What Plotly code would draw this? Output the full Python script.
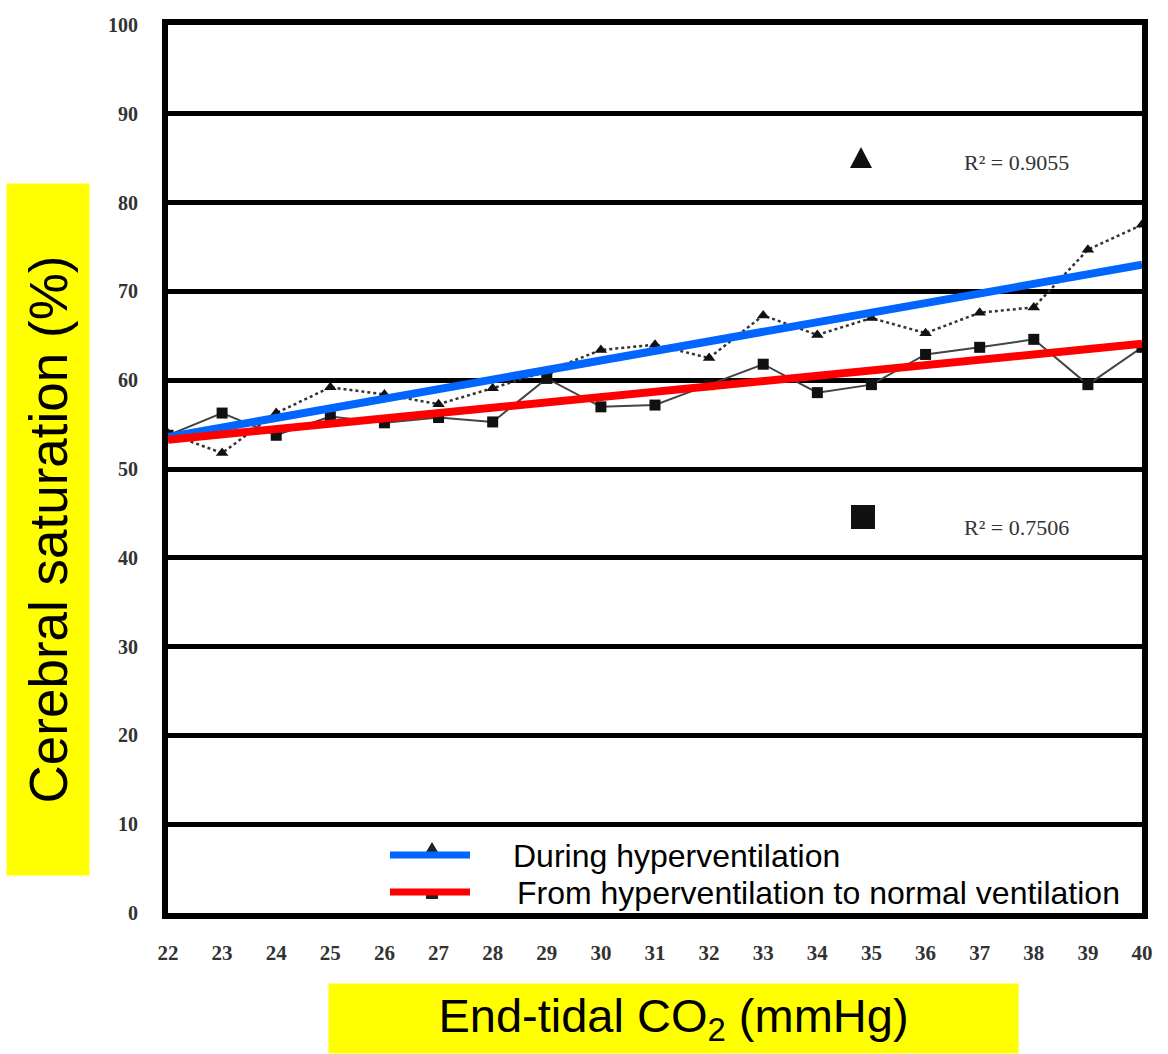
import plotly.graph_objects as go

# ---------------- data ----------------
etco2 = list(range(22, 41))
hyper_sat = [54.0, 51.8, 56.3, 59.2, 58.4, 57.3, 59.1, 61.0, 63.4, 64.0, 62.5,
             67.3, 65.1, 67.0, 65.3, 67.6, 68.2, 74.7, 77.5]
normal_sat = [53.8, 56.3, 53.8, 55.9, 55.2, 55.8, 55.3, 60.2, 57.0, 57.2, 59.5,
              61.8, 58.6, 59.5, 62.9, 63.7, 64.6, 59.5, 63.7]
fit_x = [22, 40]
hyper_fit = [53.6, 73.0]
normal_fit = [53.3, 64.1]
y_ticks = [0, 10, 20, 30, 40, 50, 60, 70, 80, 90, 100]
r2_hyper = "R² = 0.9055"
r2_normal = "R² = 0.7506"

# ---------------- figure ----------------
fig = go.Figure()

fig.add_trace(go.Scatter(
    x=etco2, y=hyper_sat, mode="lines+markers",
    line=dict(color="#333333", width=2.5, dash="dot"),
    marker=dict(symbol="triangle-up", size=11, color="#111111"),
    cliponaxis=False, showlegend=False))
fig.add_trace(go.Scatter(
    x=etco2, y=normal_sat, mode="lines+markers",
    line=dict(color="#444444", width=2),
    marker=dict(symbol="square", size=11, color="#111111"),
    cliponaxis=False, showlegend=False))
fig.add_trace(go.Scatter(
    x=fit_x, y=hyper_fit, mode="lines",
    line=dict(color="#0066ff", width=8), showlegend=False))
fig.add_trace(go.Scatter(
    x=fit_x, y=normal_fit, mode="lines",
    line=dict(color="#ff0000", width=8), showlegend=False))

L, R, T, B = 168, 26, 25, 141
W, H = 1168, 1054
pw, ph = W - L - R, H - T - B


def px(xp):
    return (xp - L) / pw


def py(yp):
    return (H - B - yp) / ph


shapes = []
# manual legend: small key markers + coloured lines
shapes.append(dict(type="path", xref="paper", yref="paper",
                   path=f"M {px(426)} {py(852)} L {px(438)} {py(852)} L {px(432)} {py(842)} Z",
                   fillcolor="#222222", line=dict(width=0)))
shapes.append(dict(type="rect", xref="paper", yref="paper",
                   x0=px(426), x1=px(438), y0=py(899), y1=py(889),
                   fillcolor="#222222", line=dict(width=0)))
shapes.append(dict(type="line", xref="paper", yref="paper",
                   x0=px(390), x1=px(470), y0=py(855), y1=py(855),
                   line=dict(color="#0066ff", width=7)))
shapes.append(dict(type="line", xref="paper", yref="paper",
                   x0=px(390), x1=px(470), y0=py(892), y1=py(892),
                   line=dict(color="#ff0000", width=7)))
# R² keys
shapes.append(dict(type="path", xref="paper", yref="paper",
                   path=f"M {px(850)} {py(168)} L {px(872)} {py(168)} L {px(861)} {py(147)} Z",
                   fillcolor="#111111", line=dict(width=0)))
shapes.append(dict(type="rect", xref="paper", yref="paper",
                   x0=px(851), x1=px(875), y0=py(529), y1=py(505),
                   fillcolor="#111111", line=dict(width=0)))

annotations = [
    dict(text=r2_hyper, xref="paper", yref="paper", x=px(1016), y=py(163),
         xanchor="center", yanchor="middle", showarrow=False,
         font=dict(family="Liberation Serif", size=22, color="#333333")),
    dict(text=r2_normal, xref="paper", yref="paper", x=px(1016), y=py(527),
         xanchor="center", yanchor="middle", showarrow=False,
         font=dict(family="Liberation Serif", size=22, color="#333333")),
    dict(text="During hyperventilation", xref="paper", yref="paper",
         x=px(511), y=py(856), xanchor="left", yanchor="middle", showarrow=False,
         font=dict(family="Liberation Sans", size=32, color="#000000")),
    dict(text="From hyperventilation to normal ventilation", xref="paper", yref="paper",
         x=px(515), y=py(893), xanchor="left", yanchor="middle", showarrow=False,
         font=dict(family="Liberation Sans", size=32, color="#000000")),
    dict(text="End-tidal CO<sub>2</sub> (mmHg)", xref="paper", yref="paper",
         x=px(673), y=py(1018), xanchor="center", yanchor="middle", showarrow=False,
         width=687, height=67, bgcolor="#ffff00",
         font=dict(family="Liberation Sans", size=47, color="#000000")),
    dict(text="Cerebral saturation (%)", xref="paper", yref="paper",
         x=px(48), y=py(530), xanchor="center", yanchor="middle", showarrow=False,
         width=689, height=80, textangle=-90, bgcolor="#ffff00",
         font=dict(family="Liberation Sans", size=53, color="#000000")),
]

fig.update_layout(
    width=W, height=H,
    margin=dict(l=L, r=R, t=T, b=B),
    paper_bgcolor="white", plot_bgcolor="white",
    shapes=shapes, annotations=annotations,
    showlegend=False,
)
fig.update_xaxes(
    range=[22, 40], tickmode="array", tickvals=etco2,
    ticktext=[f"<b>{v}</b>" for v in etco2],
    showgrid=False, zeroline=False,
    showline=True, linecolor="black", linewidth=6, mirror=True,
    ticks="", ticklabelstandoff=16,
    tickfont=dict(family="Liberation Serif", size=21, color="#333333"),
)
fig.update_yaxes(
    range=[0, 100], tickmode="array", tickvals=y_ticks,
    ticktext=[f"<b>{v}</b>" for v in y_ticks],
    showgrid=True, gridcolor="black", gridwidth=5, zeroline=False,
    showline=True, linecolor="black", linewidth=6, mirror=True,
    ticks="", ticklabelstandoff=20,
    tickfont=dict(family="Liberation Serif", size=20, color="#333333"),
)

fig.write_html("out.html")
